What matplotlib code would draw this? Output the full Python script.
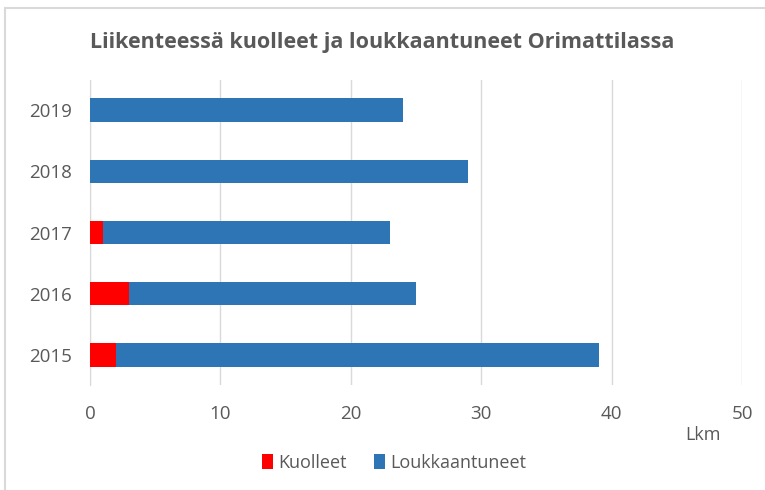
import matplotlib
matplotlib.use("Agg")
from matplotlib import pyplot as plt
from matplotlib.patches import Rectangle

years = ["2015", "2016", "2017", "2018", "2019"]
kuolleet = [2, 3, 1, 0, 0]
loukkaantuneet = [37, 22, 22, 29, 24]

text_color = "#595959"
plt.rcParams["font.family"] = ["Open Sans", "DejaVu Sans"]

fig = plt.figure(figsize=(7.65, 4.9), dpi=100)
ax = fig.add_axes([0.1176, 0.214, 0.8524, 0.623])

ax.barh(years, kuolleet, height=0.39, color="#ff0000", label="Kuolleet", zorder=3)
ax.barh(years, loukkaantuneet, left=kuolleet, height=0.39, color="#2e75b6",
        label="Loukkaantuneet", zorder=3)

ax.set_xlim(0, 50)
ax.set_ylim(-0.5, 4.5)
ax.set_xticks(range(0, 51, 10))
ax.grid(axis="x", color="#d9d9d9", linewidth=1, zorder=0)
for side in ["top", "right", "bottom"]:
    ax.spines[side].set_visible(False)
ax.spines["left"].set_color("#d9d9d9")
ax.tick_params(length=0, labelsize=13.5, colors=text_color)
ax.tick_params(axis="x", pad=14)
ax.tick_params(axis="y", pad=13)

fig.text(0.5, 0.913, "Liikenteessä kuolleet ja loukkaantuneet Orimattilassa",
         ha="center", va="center", fontsize=15.5, fontweight="bold", color=text_color)
fig.text(0.919, 0.112, "Lkm", ha="center", va="center", fontsize=13, color=text_color)

leg = fig.legend(loc="center", bbox_to_anchor=(0.515, 0.055), ncol=2, frameon=False,
                 fontsize=13, handlelength=0.6, handleheight=0.9, handletextpad=0.3,
                 columnspacing=1.5)
for t in leg.get_texts():
    t.set_color(text_color)

fig.patches.append(Rectangle((0.007, -0.1), 1.1, 1.083, transform=fig.transFigure,
                             fill=False, edgecolor="#d9d9d9", linewidth=1.5))

fig.savefig("out.png")
